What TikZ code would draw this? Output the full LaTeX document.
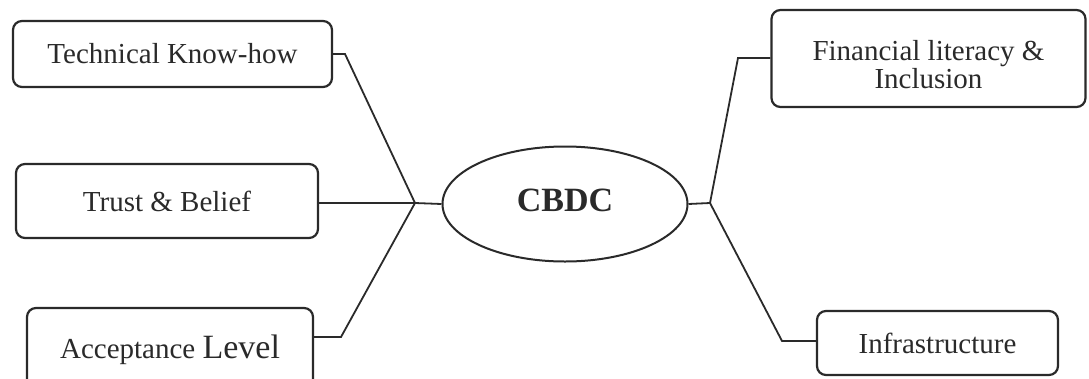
\documentclass[tikz,border=0pt]{standalone}
\usepackage{fontspec}
\setmainfont{Liberation Serif}
\usetikzlibrary{shapes.geometric}
\definecolor{ink}{HTML}{2A2A2A}
\begin{document}
\begin{tikzpicture}[x=1pt,y=-1pt,
  factor/.style={draw=ink, line width=2.2pt, rounded corners=9pt, rectangle,
    inner sep=0pt, align=center, text=ink,
    font=\fontsize{29}{28}\selectfont},
  hub/.style={draw=ink, line width=2pt, ellipse, inner sep=0pt, text=ink,
    font=\fontsize{34}{34}\selectfont\bfseries},
  link/.style={draw=ink, line width=1.8pt, line join=miter}]
\useasboundingbox (0,0) rectangle (1089,378);
\fill[white] (0,0) rectangle (1089,378);

% central concept
\node[hub, minimum width=245, minimum height=115] (cbdc) at (565,204)
  {\raisebox{4pt}[\height][\depth]{CBDC}};

% left-hand factors
\node[factor, minimum width=319, minimum height=66] (tech) at (172.5,54) {Technical Know-how};
\node[factor, minimum width=302, minimum height=74] (trust) at (167,201) {Trust \& Belief};
\node[factor, minimum width=286, minimum height=84] (accept) at (170,350)
  {Acceptance {\fontsize{34}{34}\selectfont Level}};

% right-hand factors
\node[factor, minimum width=314, minimum height=97] (fin) at (928.5,58.5)
  {\raisebox{-10pt}[\height][\depth]{\begin{tabular}{@{}c@{}}Financial literacy \&\\Inclusion\end{tabular}}};
\node[factor, minimum width=241, minimum height=64] (infra) at (937.5,343) {Infrastructure};

% bend points and junctions
\coordinate (jL) at (415,203);
\coordinate (kT) at (345,54);
\coordinate (kA) at (341,337);
\coordinate (jR) at (710,203);
\coordinate (kF) at (738,58);
\coordinate (kI) at (782,341);

% connectors
\draw[link] (tech.east |- kT) -- (kT) -- (jL);
\draw[link] (trust.east |- jL) -- (jL) -- (cbdc.west);
\draw[link] (accept.east |- kA) -- (kA) -- (jL);
\draw[link] (cbdc.east) -- (jR);
\draw[link] (jR) -- (kF) -- (fin.west |- kF);
\draw[link] (jR) -- (kI) -- (infra.west |- kI);
\end{tikzpicture}
\end{document}
